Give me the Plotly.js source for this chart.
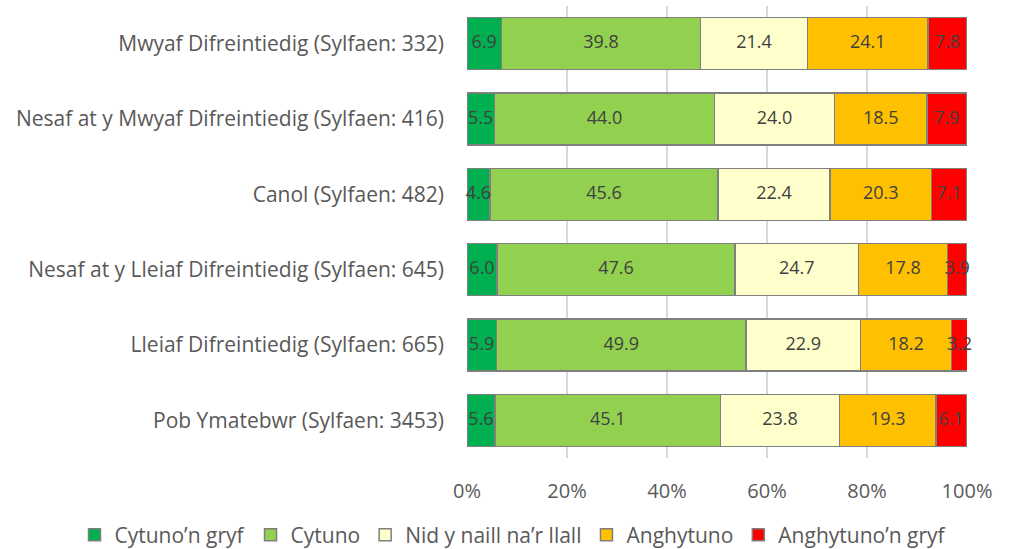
<!DOCTYPE html>
<html>
<head>
<meta charset="utf-8">
<script src="https://cdn.plot.ly/plotly-3.0.1.min.js"></script>
<style>html,body{margin:0;padding:0;background:#fff;}#chart{width:1014px;height:549px;}</style>
</head>
<body>
<div id="chart"></div>
<script>
const categories = [
  "Mwyaf Difreintiedig (Sylfaen: 332)",
  "Nesaf at y Mwyaf Difreintiedig (Sylfaen: 416)",
  "Canol (Sylfaen: 482)",
  "Nesaf at y Lleiaf Difreintiedig (Sylfaen: 645)",
  "Lleiaf Difreintiedig (Sylfaen: 665)",
  "Pob Ymatebwr (Sylfaen: 3453)"
];
const seriesNames = ["Cytuno’n gryf", "Cytuno", "Nid y naill na’r llall", "Anghytuno", "Anghytuno’n gryf"];
const cytunoGryf = [6.9, 5.5, 4.6, 6.0, 5.9, 5.6];
const cytuno = [39.8, 44.0, 45.6, 47.6, 49.9, 45.1];
const nidNaill = [21.4, 24.0, 22.4, 24.7, 22.9, 23.8];
const anghytuno = [24.1, 18.5, 20.3, 17.8, 18.2, 19.3];
const anghytunoGryf = [7.8, 7.9, 7.1, 3.9, 3.2, 6.1];
const seriesValues = [cytunoGryf, cytuno, nidNaill, anghytuno, anghytunoGryf];
const colors = ["#00b050", "#92d050", "#ffffcc", "#ffc000", "#ff0000"];
const tickVals = [0, 20, 40, 60, 80, 100];
const tickText = ["0%", "20%", "40%", "60%", "80%", "100%"];

const font = "'Open Sans', sans-serif";
const textColor = "#595959";

const barTraces = seriesValues.map((vals, i) => ({
  type: "bar",
  orientation: "h",
  name: seriesNames[i],
  y: categories,
  x: vals,
  hoverinfo: "none",
  marker: {color: colors[i], line: {color: "#7f7f7f", width: 1.5}},
  width: 0.69
}));

// data labels centred in each segment, positioned from the cumulative data
const cum = categories.map(() => 0);
const labelTraces = seriesValues.map((vals) => {
  const xs = vals.map((v, j) => { const mid = cum[j] + v / 2; cum[j] += v; return mid; });
  return {
    type: "scatter",
    mode: "text",
    x: xs,
    y: categories,
    text: vals.map(v => v.toFixed(1)),
    textposition: "middle center",
    textfont: {family: font, size: 18, color: "#404040"},
    cliponaxis: false,
    hoverinfo: "none",
    showlegend: false
  };
});

const layout = {
  width: 1014, height: 549,
  barmode: "stack",
  paper_bgcolor: "#fff", plot_bgcolor: "#fff",
  margin: {l: 467, r: 47, t: 6, b: 91, autoexpand: false},
  font: {family: font, color: textColor},
  xaxis: {
    range: [0, 100], tickvals: tickVals, ticktext: tickText,
    showgrid: true, gridcolor: "#d9d9d9", gridwidth: 1.3,
    zeroline: false, showline: false,
    tickfont: {family: font, size: 20, color: textColor},
    ticklabelstandoff: 19, fixedrange: true
  },
  yaxis: {
    autorange: "reversed", type: "category",
    showgrid: false, zeroline: false, showline: false,
    tickfont: {family: font, size: 21, color: textColor},
    ticklabelstandoff: 22, fixedrange: true
  },
  showlegend: true,
  legend: {
    orientation: "h", xref: "paper", yref: "paper",
    x: -0.785, xanchor: "left", y: -0.125, yanchor: "top",
    font: {family: font, size: 21, color: textColor},
    traceorder: "normal", itemwidth: 30
  }
};

Plotly.newPlot("chart", barTraces.concat(labelTraces), layout, {displayModeBar: false, staticPlot: true});
</script>
</body>
</html>
